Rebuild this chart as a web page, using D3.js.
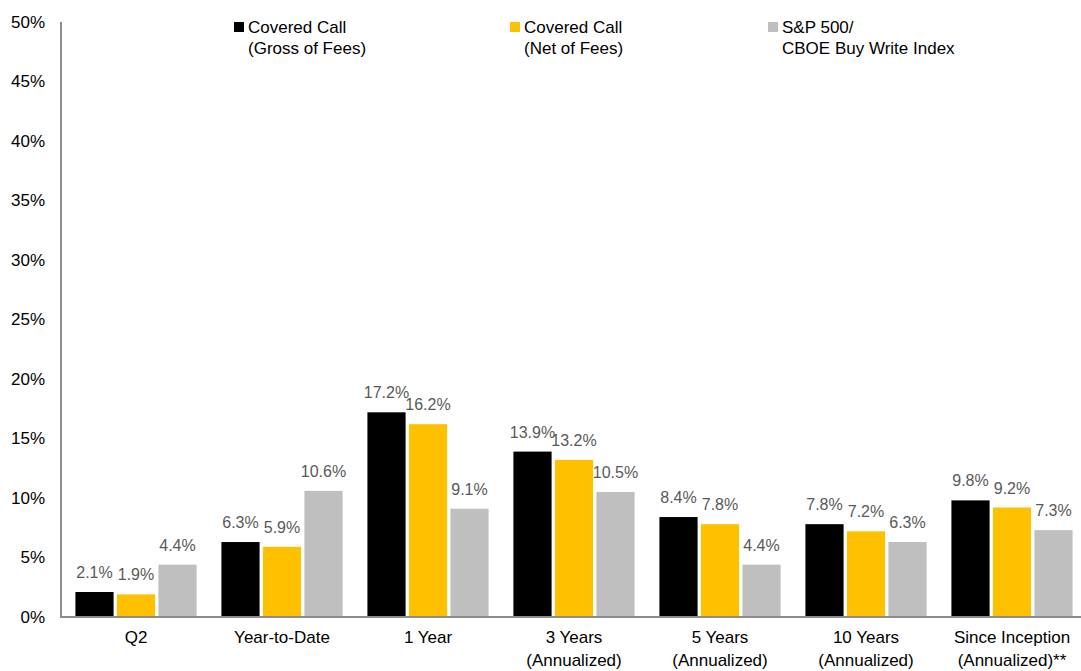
<!DOCTYPE html>
<html><head><meta charset="utf-8">
<script src="https://cdn.jsdelivr.net/npm/d3@7"></script>
<style>body{margin:0;background:#fff}svg{display:block;font-family:"Liberation Sans",Arial,sans-serif}</style>
</head><body><svg id="c" width="1081" height="671"></svg>
<script>
const categories = [["Q2"],["Year-to-Date"],["1 Year"],["3 Years","(Annualized)"],["5 Years","(Annualized)"],["10 Years","(Annualized)"],["Since Inception","(Annualized)**"]];
const gross = [2.1,6.3,17.2,13.9,8.4,7.8,9.8];
const net = [1.9,5.9,16.2,13.2,7.8,7.2,9.2];
const index = [4.4,10.6,9.1,10.5,4.4,6.3,7.3];
const seriesNames = [["Covered Call","(Gross of Fees)"],["Covered Call","(Net of Fees)"],["S&P 500/","CBOE Buy Write Index"]];
const colors = ["#000000","#FFC000","#BFBFBF"];
const yTicks = [0,5,10,15,20,25,30,35,40,45,50];

const svg = d3.select("#c");
const series = [gross, net, index];
const keys = categories.map((c,i)=>i);
const x0 = d3.scaleBand().domain(keys).range([63,1085]).paddingInner(0.17).paddingOuter(0.085);
const x1 = d3.scaleBand().domain([0,1,2]).range([0,x0.bandwidth()]).paddingInner(0.08);
const y = d3.scaleLinear().domain([0,50]).range([617,22]);

// y tick labels
svg.append("g").selectAll("text").data(yTicks).join("text")
  .attr("x",45).attr("y",d=>y(d)).attr("dy","0.35em").attr("text-anchor","end")
  .attr("font-size",17).attr("fill","#000").text(d=>d+"%");

// bars
const g = svg.append("g");
series.forEach((vals,s)=>{
  g.selectAll(".b"+s).data(vals).join("rect")
    .attr("x",(d,i)=>x0(i)+x1(s)).attr("width",x1.bandwidth())
    .attr("y",d=>y(d)).attr("height",d=>y(0)-y(d)).attr("fill",colors[s]);
  g.selectAll(".l"+s).data(vals).join("text")
    .attr("x",(d,i)=>x0(i)+x1(s)+x1.bandwidth()/2).attr("y",d=>y(d)-14)
    .attr("text-anchor","middle").attr("font-size",16).attr("fill","#595959")
    .text(d=>d.toFixed(1)+"%")
    .each(function(){
      const bb=this.getBBox();
      if(bb.x+bb.width>1078){ d3.select(this).attr("x", +d3.select(this).attr("x") - (bb.x+bb.width-1078)); }
    });
});

// axes lines
svg.append("line").attr("x1",61).attr("x2",61).attr("y1",y(50)).attr("y2",y(0)).attr("stroke","#8c8c8c").attr("stroke-width",2);
svg.append("line").attr("x1",60).attr("x2",1081).attr("y1",y(0)).attr("y2",y(0)).attr("stroke","#8c8c8c").attr("stroke-width",2);

// category labels
const cl = svg.append("g").selectAll("text").data(categories).join("text")
  .attr("text-anchor","middle").attr("font-size",17).attr("fill","#000");
cl.each(function(d,i){
  const t = d3.select(this);
  d.forEach((line,k)=>{
    t.append("tspan").attr("x",x0(i)+x0.bandwidth()/2).attr("y",643+k*23).text(line);
  });
});

// legend
const legX = [234,510,768];
seriesNames.forEach((nm,s)=>{
  svg.append("rect").attr("x",legX[s]).attr("y",22).attr("width",10).attr("height",10).attr("fill",colors[s]);
  const t = svg.append("text").attr("font-size",17).attr("fill","#000");
  nm.forEach((line,k)=>t.append("tspan").attr("x",legX[s]+14).attr("y",33+k*21).text(line));
});
</script></body></html>
